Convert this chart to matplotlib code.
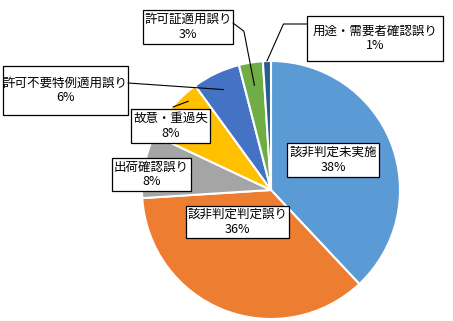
import numpy as np
import matplotlib
matplotlib.use("Agg")
import matplotlib.pyplot as plt
from matplotlib.lines import Line2D
from matplotlib.patches import Rectangle

plt.rcParams['font.family'] = ['Noto Sans CJK JP', 'DejaVu Sans']

# data
labels = ['該非判定未実施', '該非判定判定誤り', '出荷確認誤り', '故意・重過失',
          '許可不要特例適用誤り', '許可証適用誤り', '用途・需要者確認誤り']
values = [38, 36, 8, 8, 6, 3, 1]
colors = ['#5B9BD5', '#ED7D31', '#A5A5A5', '#FFC000', '#4472C4', '#70AD47', '#255E91']

W, H = 453, 322
cx, cy, R = 271, 190, 129  # pie centre / radius in pixels


def px(x, y):
    return ((x - cx) / R, (cy - y) / R)


fig = plt.figure(figsize=(W / 100, H / 100), dpi=100)
ax = fig.add_axes([0, 0, 1, 1])
wedges, _ = ax.pie(values, colors=colors, startangle=90, counterclock=False,
                   radius=1, wedgeprops=dict(edgecolor='white', linewidth=1.5))
ax.set_xlim(-cx / R, (W - cx) / R)
ax.set_ylim((cy - H) / R, cy / R)
ax.set_aspect('equal')
ax.axis('off')

# label box (x0, y0, x1, y1 in px), leader: (fraction along wedge, radius, start px, connection) or None
layout = [
    ((287, 143, 379, 177), None),
    ((186, 206, 289, 238), None),
    ((112, 158, 191, 191), None),
    ((131, 109, 210, 143), (0.76, 0.94, (173, 107), 'arc3')),
    ((3, 66, 128, 115), (0.5, 0.86, (128, 83), 'arc3')),
    ((143, 10, 233, 44), (0.5, 0.82, (233, 23), 'angle,angleA=-37,angleB=101,rad=0')),
    ((307, 16, 443, 61), (0.5, 1.0, (307, 24), 'angle,angleA=0,angleB=66,rad=0')),
]

for w, lab, v, (box, lead) in zip(wedges, labels, values, layout):
    x0, y0, x1, y1 = box
    (bx0, by1), (bx1, by0) = px(x0, y0), px(x1, y1)
    ax.add_patch(Rectangle((bx0, by0), bx1 - bx0, by1 - by0, fc='white', ec='black',
                           lw=0.9, zorder=3))
    ax.text((bx0 + bx1) / 2, (by0 + by1) / 2, f'{lab}\n{v}%', ha='center', va='center',
            fontsize=9, linespacing=1.15, zorder=4)
    if lead is not None:
        frac, r, start, conn = lead
        ang = np.deg2rad(w.theta2 - frac * (w.theta2 - w.theta1))
        ax.annotate('', xy=(r * np.cos(ang), r * np.sin(ang)), xytext=px(*start),
                    arrowprops=dict(arrowstyle='-', color='black', lw=0.8,
                                    connectionstyle=conn, shrinkA=0, shrinkB=0))

fig.add_artist(Line2D([0, 1], [0.5 / H, 0.5 / H], color='#D0D0D0', lw=1.5,
                      transform=fig.transFigure))

fig.savefig('out.png', dpi=100)
